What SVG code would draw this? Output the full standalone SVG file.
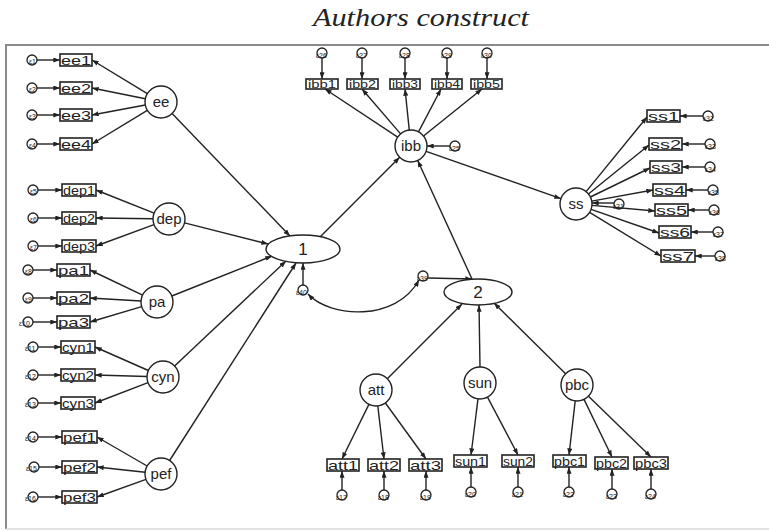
<svg xmlns="http://www.w3.org/2000/svg" width="769" height="531" viewBox="0 0 769 531">
<defs>
<marker id="ah" viewBox="0 0 8 6" refX="8" refY="3" markerWidth="7" markerHeight="5" markerUnits="userSpaceOnUse" orient="auto-start-reverse"><path d="M0,0 L8,3 L0,6 z" fill="#222"/></marker>
<style>
.t{font-family:"Liberation Serif",serif;font-style:italic;font-size:26px;fill:#222}
.lv circle,.lv ellipse{fill:#fff;stroke:#222;stroke-width:1.4}
.lv text{font-family:"Liberation Sans",Arial,sans-serif;font-size:15px;fill:#222;text-anchor:middle}
.ob rect{fill:#fff;stroke:#222;stroke-width:1.6}
.ob text{font-family:"Liberation Sans",Arial,sans-serif;font-size:13px;fill:#222}
.er circle{fill:none;stroke:#222;stroke-width:1.3}
.er text{font-family:"Liberation Sans",Arial,sans-serif;font-size:7px;fill:#222}
#conn line,#conn path{stroke:#222;stroke-width:1.4;fill:none;marker-end:url(#ah)}
</style>
</defs>
<rect width="769" height="531" fill="#fff"/>
<text class="t" x="313" y="26" textLength="216" lengthAdjust="spacingAndGlyphs">Authors construct</text>
<path d="M775 45 H6 V529" fill="none" stroke="#8a8a8a" stroke-width="2"/>
<path d="M6 529 H775" fill="none" stroke="#d8d8d8" stroke-width="1.5"/>

<g id="conn">
<!-- ee -->
<line x1="147.3" y1="93.7" x2="92" y2="60"/>
<line x1="145.3" y1="98.8" x2="92" y2="88"/>
<line x1="145.3" y1="105" x2="92" y2="115"/>
<line x1="147.3" y1="110.3" x2="92" y2="144"/>
<!-- dep -->
<line x1="154.1" y1="213.1" x2="96" y2="190"/>
<line x1="153" y1="218.8" x2="96" y2="218"/>
<line x1="154" y1="224.6" x2="96" y2="246"/>
<!-- pa -->
<line x1="142.6" y1="295.1" x2="90" y2="270"/>
<line x1="141" y1="301" x2="90" y2="298"/>
<line x1="141.7" y1="306.6" x2="90" y2="322"/>
<!-- cyn -->
<line x1="148.4" y1="370.5" x2="95" y2="347"/>
<line x1="147" y1="376.5" x2="95" y2="375"/>
<line x1="148" y1="382.7" x2="95" y2="403"/>
<!-- pef -->
<line x1="147.1" y1="466" x2="97" y2="437"/>
<line x1="145.1" y1="472.3" x2="97" y2="467"/>
<line x1="146" y1="479.4" x2="97" y2="497"/>
<!-- left errors -->
<line x1="37" y1="60" x2="60" y2="60"/>
<line x1="37" y1="88" x2="60" y2="88"/>
<line x1="37" y1="115" x2="60" y2="115"/>
<line x1="37" y1="144" x2="60" y2="144"/>
<line x1="38" y1="190" x2="62" y2="190"/>
<line x1="38" y1="218" x2="62" y2="218"/>
<line x1="38" y1="246" x2="62" y2="246"/>
<line x1="33" y1="270" x2="57" y2="270"/>
<line x1="33" y1="298" x2="57" y2="298"/>
<line x1="33" y1="322" x2="57" y2="322"/>
<line x1="38" y1="347" x2="61" y2="347"/>
<line x1="38" y1="375" x2="61" y2="375"/>
<line x1="38" y1="403" x2="61" y2="403"/>
<line x1="38" y1="437" x2="62" y2="437"/>
<line x1="39" y1="467" x2="62" y2="467"/>
<line x1="38" y1="497" x2="62" y2="497"/>
<!-- to 1 -->
<line x1="172.1" y1="113.5" x2="290" y2="236"/>
<line x1="184.5" y1="222.9" x2="268" y2="244"/>
<line x1="171.8" y1="296" x2="272" y2="256"/>
<line x1="174.6" y1="366" x2="286" y2="261"/>
<line x1="169.6" y1="460.5" x2="296" y2="263"/>
<!-- 1 -> ibb, 2 -> ibb, ibb -> ss -->
<line x1="320" y1="237" x2="399.7" y2="157.3"/>
<line x1="472" y1="279" x2="417.7" y2="160.5"/>
<line x1="426.1" y1="151.3" x2="560.9" y2="198.7"/>
<!-- ibb items -->
<line x1="397.7" y1="137.2" x2="325" y2="89"/>
<line x1="400.6" y1="133.9" x2="362" y2="89"/>
<line x1="409.3" y1="130.1" x2="405" y2="89"/>
<line x1="418.5" y1="131.8" x2="441" y2="89"/>
<line x1="423.5" y1="136" x2="482" y2="89"/>
<line x1="322" y1="58" x2="322" y2="79"/>
<line x1="362" y1="58" x2="362" y2="79"/>
<line x1="405" y1="58" x2="405" y2="79"/>
<line x1="447" y1="58" x2="447" y2="79"/>
<line x1="487" y1="58" x2="487" y2="79"/>
<line x1="450" y1="146" x2="427" y2="146"/>
<!-- ss items -->
<line x1="586.1" y1="191.6" x2="647" y2="117"/>
<line x1="588.4" y1="194" x2="649" y2="145"/>
<line x1="590.4" y1="197" x2="650" y2="168"/>
<line x1="591.7" y1="201.1" x2="653" y2="190"/>
<line x1="592" y1="205.4" x2="655" y2="211"/>
<line x1="591.1" y1="209.3" x2="659" y2="233"/>
<line x1="589.6" y1="212.4" x2="661" y2="256"/>
<line x1="703" y1="116" x2="680" y2="116"/>
<line x1="705" y1="144" x2="682" y2="144"/>
<line x1="705" y1="167" x2="682" y2="167"/>
<line x1="708" y1="190" x2="686" y2="190"/>
<line x1="709" y1="210" x2="688" y2="210"/>
<line x1="713" y1="232" x2="691" y2="232"/>
<line x1="715" y1="256" x2="695" y2="256"/>
<line x1="614" y1="203" x2="592" y2="203"/>
<!-- to 2 -->
<line x1="387.3" y1="378.7" x2="462" y2="304"/>
<line x1="480" y1="367" x2="479" y2="305"/>
<line x1="565.6" y1="373.8" x2="494" y2="303"/>
<line x1="428" y1="278" x2="472" y2="279"/>
<line x1="303" y1="285" x2="303" y2="263"/>
<path d="M308 294 C330 318 396 322 419 280" style="marker-start:url(#ah)"/>
<!-- att/sun/pbc items -->
<line x1="368.9" y1="404.4" x2="342" y2="459"/>
<line x1="377.8" y1="405.9" x2="384" y2="459"/>
<line x1="385.4" y1="403" x2="426" y2="459"/>
<line x1="478" y1="398.9" x2="471" y2="455"/>
<line x1="487.5" y1="397.2" x2="518" y2="455"/>
<line x1="575.2" y1="400.9" x2="569" y2="455"/>
<line x1="584" y1="399.4" x2="612" y2="457"/>
<line x1="588.5" y1="396.2" x2="651" y2="457"/>
<line x1="342" y1="490" x2="342" y2="471"/>
<line x1="384" y1="490" x2="384" y2="471"/>
<line x1="426" y1="490" x2="426" y2="471"/>
<line x1="471" y1="487" x2="471" y2="467"/>
<line x1="518" y1="487" x2="518" y2="467"/>
<line x1="569" y1="487" x2="569" y2="467"/>
<line x1="612" y1="489" x2="612" y2="469"/>
<line x1="651" y1="489" x2="651" y2="469"/>
</g>

<!-- latent variables -->
<g id="ee" class="lv"><circle cx="161" cy="102" r="16"/><text x="161" y="107">ee</text></g>
<g id="dep" class="lv"><circle cx="169" cy="219" r="16"/><text x="169" y="224">dep</text></g>
<g id="pa" class="lv"><circle cx="157" cy="302" r="16"/><text x="157" y="307">pa</text></g>
<g id="cyn" class="lv"><circle cx="163" cy="377" r="16"/><text x="163" y="382">cyn</text></g>
<g id="pef" class="lv"><circle cx="161" cy="474" r="16"/><text x="161" y="479">pef</text></g>
<g id="f1" class="lv"><ellipse cx="303" cy="249" rx="37" ry="14"/><text x="303" y="255" style="font-size:17px">1</text></g>
<g id="f2" class="lv"><ellipse cx="478" cy="292" rx="34" ry="13"/><text x="478" y="298" style="font-size:17px">2</text></g>
<g id="ibb" class="lv"><circle cx="411" cy="146" r="16"/><text x="411" y="151">ibb</text></g>
<g id="ss" class="lv"><circle cx="576" cy="204" r="16"/><text x="576" y="209">ss</text></g>
<g id="att" class="lv"><circle cx="376" cy="390" r="16"/><text x="376" y="395">att</text></g>
<g id="sun" class="lv"><circle cx="480" cy="383" r="16"/><text x="480" y="388">sun</text></g>
<g id="pbc" class="lv"><circle cx="577" cy="385" r="16"/><text x="577" y="390">pbc</text></g>

<!-- observed -->
<g id="ee1" class="ob"><rect x="60" y="54" width="32" height="12"/><text x="61" y="65" textLength="30" lengthAdjust="spacingAndGlyphs">ee1</text></g>
<g id="ee2" class="ob"><rect x="60" y="82" width="32" height="12"/><text x="61" y="93" textLength="30" lengthAdjust="spacingAndGlyphs">ee2</text></g>
<g id="ee3" class="ob"><rect x="60" y="109" width="32" height="12"/><text x="61" y="120" textLength="30" lengthAdjust="spacingAndGlyphs">ee3</text></g>
<g id="ee4" class="ob"><rect x="60" y="138" width="32" height="12"/><text x="61" y="149" textLength="30" lengthAdjust="spacingAndGlyphs">ee4</text></g>
<g id="dep1" class="ob"><rect x="62" y="184" width="34" height="12"/><text x="63" y="195" textLength="32" lengthAdjust="spacingAndGlyphs">dep1</text></g>
<g id="dep2" class="ob"><rect x="62" y="212" width="34" height="12"/><text x="63" y="223" textLength="32" lengthAdjust="spacingAndGlyphs">dep2</text></g>
<g id="dep3" class="ob"><rect x="62" y="240" width="34" height="12"/><text x="63" y="251" textLength="32" lengthAdjust="spacingAndGlyphs">dep3</text></g>
<g id="pa1" class="ob"><rect x="57" y="264" width="33" height="12"/><text x="58" y="275" textLength="31" lengthAdjust="spacingAndGlyphs">pa1</text></g>
<g id="pa2" class="ob"><rect x="57" y="292" width="33" height="12"/><text x="58" y="303" textLength="31" lengthAdjust="spacingAndGlyphs">pa2</text></g>
<g id="pa3" class="ob"><rect x="57" y="316" width="33" height="12"/><text x="58" y="327" textLength="31" lengthAdjust="spacingAndGlyphs">pa3</text></g>
<g id="cyn1" class="ob"><rect x="61" y="341" width="34" height="12"/><text x="62" y="352" textLength="32" lengthAdjust="spacingAndGlyphs">cyn1</text></g>
<g id="cyn2" class="ob"><rect x="61" y="369" width="34" height="12"/><text x="62" y="380" textLength="32" lengthAdjust="spacingAndGlyphs">cyn2</text></g>
<g id="cyn3" class="ob"><rect x="61" y="397" width="34" height="12"/><text x="62" y="408" textLength="32" lengthAdjust="spacingAndGlyphs">cyn3</text></g>
<g id="pef1" class="ob"><rect x="62" y="431" width="35" height="12"/><text x="63" y="442" textLength="33" lengthAdjust="spacingAndGlyphs">pef1</text></g>
<g id="pef2" class="ob"><rect x="62" y="461" width="35" height="12"/><text x="63" y="472" textLength="33" lengthAdjust="spacingAndGlyphs">pef2</text></g>
<g id="pef3" class="ob"><rect x="62" y="491" width="35" height="12"/><text x="63" y="502" textLength="33" lengthAdjust="spacingAndGlyphs">pef3</text></g>

<g id="ibb1" class="ob"><rect x="306" y="79" width="32" height="10"/><text x="308" y="88" style="font-size:11px" textLength="28" lengthAdjust="spacingAndGlyphs">ibb1</text></g>
<g id="ibb2" class="ob"><rect x="347" y="79" width="31" height="10"/><text x="349" y="88" style="font-size:11px" textLength="27" lengthAdjust="spacingAndGlyphs">ibb2</text></g>
<g id="ibb3" class="ob"><rect x="390" y="79" width="30" height="10"/><text x="392" y="88" style="font-size:11px" textLength="26" lengthAdjust="spacingAndGlyphs">ibb3</text></g>
<g id="ibb4" class="ob"><rect x="432" y="79" width="30" height="10"/><text x="434" y="88" style="font-size:11px" textLength="26" lengthAdjust="spacingAndGlyphs">ibb4</text></g>
<g id="ibb5" class="ob"><rect x="471" y="79" width="31" height="10"/><text x="473" y="88" style="font-size:11px" textLength="27" lengthAdjust="spacingAndGlyphs">ibb5</text></g>

<g id="ss1" class="ob"><rect x="647" y="110" width="33" height="12"/><text x="648" y="121" textLength="31" lengthAdjust="spacingAndGlyphs">ss1</text></g>
<g id="ss2" class="ob"><rect x="649" y="138" width="33" height="12"/><text x="650" y="149" textLength="31" lengthAdjust="spacingAndGlyphs">ss2</text></g>
<g id="ss3" class="ob"><rect x="650" y="161" width="32" height="12"/><text x="651" y="172" textLength="30" lengthAdjust="spacingAndGlyphs">ss3</text></g>
<g id="ss4" class="ob"><rect x="653" y="184" width="33" height="12"/><text x="654" y="195" textLength="31" lengthAdjust="spacingAndGlyphs">ss4</text></g>
<g id="ss5" class="ob"><rect x="655" y="204" width="33" height="12"/><text x="656" y="215" textLength="31" lengthAdjust="spacingAndGlyphs">ss5</text></g>
<g id="ss6" class="ob"><rect x="659" y="226" width="32" height="12"/><text x="660" y="237" textLength="30" lengthAdjust="spacingAndGlyphs">ss6</text></g>
<g id="ss7" class="ob"><rect x="661" y="250" width="34" height="12"/><text x="662" y="261" textLength="32" lengthAdjust="spacingAndGlyphs">ss7</text></g>

<g id="att1" class="ob"><rect x="327" y="459" width="32" height="12"/><text x="328" y="470" textLength="30" lengthAdjust="spacingAndGlyphs">att1</text></g>
<g id="att2" class="ob"><rect x="368" y="459" width="32" height="12"/><text x="369" y="470" textLength="30" lengthAdjust="spacingAndGlyphs">att2</text></g>
<g id="att3" class="ob"><rect x="409" y="459" width="33" height="12"/><text x="410" y="470" textLength="31" lengthAdjust="spacingAndGlyphs">att3</text></g>
<g id="sun1" class="ob"><rect x="454" y="455" width="33" height="12"/><text x="455" y="466" textLength="31" lengthAdjust="spacingAndGlyphs">sun1</text></g>
<g id="sun2" class="ob"><rect x="502" y="455" width="32" height="12"/><text x="503" y="466" textLength="30" lengthAdjust="spacingAndGlyphs">sun2</text></g>
<g id="pbc1" class="ob"><rect x="553" y="455" width="33" height="12"/><text x="554" y="466" textLength="31" lengthAdjust="spacingAndGlyphs">pbc1</text></g>
<g id="pbc2" class="ob"><rect x="595" y="457" width="33" height="12"/><text x="596" y="468" textLength="31" lengthAdjust="spacingAndGlyphs">pbc2</text></g>
<g id="pbc3" class="ob"><rect x="634" y="457" width="34" height="12"/><text x="635" y="468" textLength="32" lengthAdjust="spacingAndGlyphs">pbc3</text></g>

<!-- error terms -->
<g id="e1" class="er"><circle cx="32" cy="60" r="5"/><text x="29" y="64">ε1</text></g>
<g id="e2" class="er"><circle cx="32" cy="88" r="5"/><text x="29" y="92">ε2</text></g>
<g id="e3" class="er"><circle cx="32" cy="115" r="5"/><text x="29" y="119">ε3</text></g>
<g id="e4" class="er"><circle cx="32" cy="144" r="5"/><text x="29" y="148">ε4</text></g>
<g id="e5" class="er"><circle cx="33" cy="190" r="5"/><text x="30" y="194">ε5</text></g>
<g id="e6" class="er"><circle cx="33" cy="218" r="5"/><text x="30" y="222">ε6</text></g>
<g id="e7" class="er"><circle cx="33" cy="246" r="5"/><text x="30" y="250">ε7</text></g>
<g id="e8" class="er"><circle cx="28" cy="270" r="5"/><text x="25" y="274">ε8</text></g>
<g id="e9" class="er"><circle cx="28" cy="298" r="5"/><text x="25" y="302">ε9</text></g>
<g id="e10" class="er"><circle cx="28" cy="322" r="5"/><text x="19" y="326">ε10</text></g>
<g id="e11" class="er"><circle cx="33" cy="347" r="5"/><text x="25" y="351">ε11</text></g>
<g id="e12" class="er"><circle cx="33" cy="375" r="5"/><text x="25" y="379">ε12</text></g>
<g id="e13" class="er"><circle cx="33" cy="403" r="5"/><text x="25" y="407">ε13</text></g>
<g id="e14" class="er"><circle cx="33" cy="437" r="5"/><text x="25" y="441">ε14</text></g>
<g id="e15" class="er"><circle cx="34" cy="467" r="5"/><text x="26" y="471">ε15</text></g>
<g id="e16" class="er"><circle cx="33" cy="497" r="5"/><text x="25" y="501">ε16</text></g>

<g id="e17" class="er"><circle cx="342" cy="495" r="5"/><text x="336" y="500">ε17</text></g>
<g id="e18" class="er"><circle cx="384" cy="495" r="5"/><text x="378" y="500">ε18</text></g>
<g id="e19" class="er"><circle cx="426" cy="495" r="5"/><text x="420" y="500">ε19</text></g>
<g id="e20" class="er"><circle cx="471" cy="492" r="5"/><text x="465" y="497">ε20</text></g>
<g id="e21" class="er"><circle cx="518" cy="492" r="5"/><text x="512" y="497">ε21</text></g>
<g id="e22" class="er"><circle cx="569" cy="492" r="5"/><text x="563" y="497">ε22</text></g>
<g id="e23" class="er"><circle cx="612" cy="494" r="5"/><text x="606" y="499">ε23</text></g>
<g id="e24" class="er"><circle cx="651" cy="494" r="5"/><text x="645" y="499">ε24</text></g>

<g id="e25" class="er"><circle cx="455" cy="146" r="5"/><text x="449" y="151">ε25</text></g>
<g id="e26" class="er"><circle cx="322" cy="53" r="5"/><text x="316" y="58">ε26</text></g>
<g id="e27" class="er"><circle cx="362" cy="53" r="5"/><text x="356" y="58">ε27</text></g>
<g id="e28" class="er"><circle cx="405" cy="53" r="5"/><text x="399" y="58">ε28</text></g>
<g id="e29" class="er"><circle cx="447" cy="53" r="5"/><text x="441" y="58">ε29</text></g>
<g id="e30" class="er"><circle cx="487" cy="53" r="5"/><text x="481" y="58">ε30</text></g>

<g id="e31" class="er"><circle cx="619" cy="204" r="5"/><text x="613" y="209">ε31</text></g>
<g id="e32" class="er"><circle cx="708" cy="116" r="5"/><text x="703" y="121">ε32</text></g>
<g id="e33" class="er"><circle cx="710" cy="144" r="5"/><text x="705" y="149">ε33</text></g>
<g id="e34" class="er"><circle cx="710" cy="167" r="5"/><text x="705" y="172">ε34</text></g>
<g id="e35" class="er"><circle cx="713" cy="190" r="5"/><text x="708" y="195">ε35</text></g>
<g id="e36" class="er"><circle cx="714" cy="210" r="5"/><text x="709" y="215">ε36</text></g>
<g id="e37" class="er"><circle cx="718" cy="232" r="5"/><text x="713" y="237">ε37</text></g>
<g id="e38" class="er"><circle cx="720" cy="256" r="5"/><text x="715" y="261">ε38</text></g>

<g id="e39" class="er"><circle cx="423" cy="276" r="5"/><text x="417" y="281">ε39</text></g>
<g id="e40" class="er"><circle cx="303" cy="290" r="5"/><text x="296" y="295">ε40</text></g>
</svg>
